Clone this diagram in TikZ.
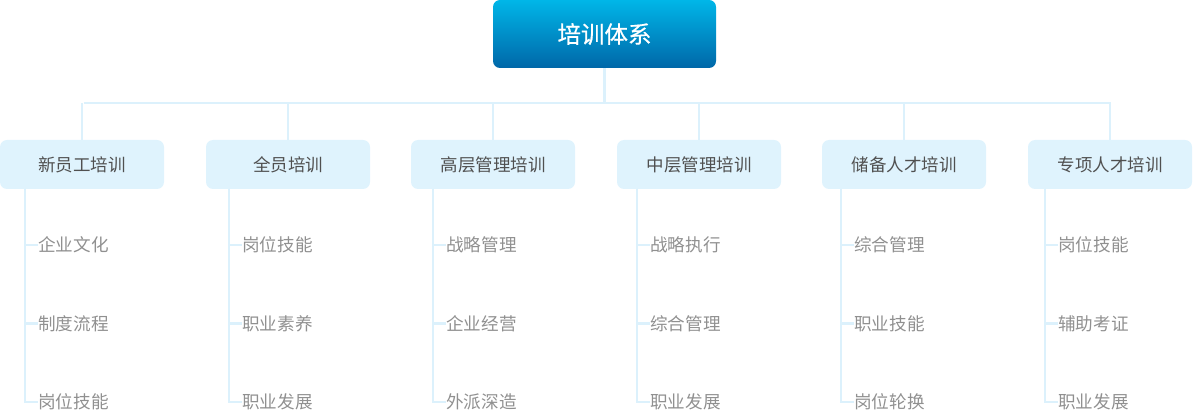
\documentclass[tikz,border=0pt]{standalone}
\usepackage{fontspec}
\setmainfont{Noto Sans CJK SC}
\newfontfamily\topfont[FakeBold=0.6]{Noto Sans CJK SC}
\usetikzlibrary{calc}
\definecolor{topA}{HTML}{00B6E8}
\definecolor{topB}{HTML}{0067A8}
\definecolor{boxfill}{HTML}{DFF3FD}
\definecolor{linec}{HTML}{DCF1FC}
\definecolor{headtxt}{HTML}{505050}
\definecolor{subtxt}{HTML}{909090}
\tikzset{
  topbox/.style={rounded corners=7pt, minimum width=223pt, minimum height=68pt,
    top color=topA, bottom color=topB, draw=none, text=white,
    font=\topfont\fontsize{23.5pt}{26pt}\selectfont, inner sep=0pt},
  headbox/.style={rounded corners=7pt, minimum width=164pt, minimum height=49pt,
    fill=boxfill, draw=none, text=headtxt, font=\fontsize{17.5pt}{20pt}\selectfont, inner sep=0pt},
  subitem/.style={anchor=west, inner sep=0pt, text=subtxt, font=\fontsize{17.6pt}{20pt}\selectfont},
  conn/.style={draw=linec, line width=2.6pt},
}
\begin{document}
\begin{tikzpicture}[x=1pt,y=-1pt]
\useasboundingbox (0,0) rectangle (1193,411);
\node[topbox] (top) at (604.5,34) {培训体系};
\coordinate (busL) at (84,103);
\coordinate (busR) at (1111,103);
\draw[conn] (busL) -- (busR);
\draw[conn] (top.south) -- (top.south |- busL);
% heads
\foreach \i/\cx/\lx/\t/\a/\b/\c in {
  1/82/25/新员工培训/企业文化/制度流程/岗位技能,
  2/288/229/全员培训/岗位技能/职业素养/职业发展,
  3/493/433/高层管理培训/战略管理/企业经营/外派深造,
  4/699/637/中层管理培训/战略执行/综合管理/职业发展,
  5/904/841/储备人才培训/综合管理/职业技能/岗位轮换,
  6/1110/1045/专项人才培训/岗位技能/辅助考证/职业发展}{
  \node[headbox] (h\i) at (\cx,164.5) {\t};
  \draw[conn] (h\i.north) -- (h\i.north |- busL);
  \coordinate (l\i) at (\lx,189);
  \node[subitem] (s\i a) at (\lx+13,245) {\a};
  \node[subitem] (s\i b) at (\lx+13,323.5) {\b};
  \node[subitem] (s\i c) at (\lx+13,402) {\c};
  \draw[conn] (l\i) |- (s\i c.west);
  \draw[conn] (l\i |- s\i a.west) -- (s\i a.west);
  \draw[conn] (l\i |- s\i b.west) -- (s\i b.west);
}
\end{tikzpicture}
\end{document}
